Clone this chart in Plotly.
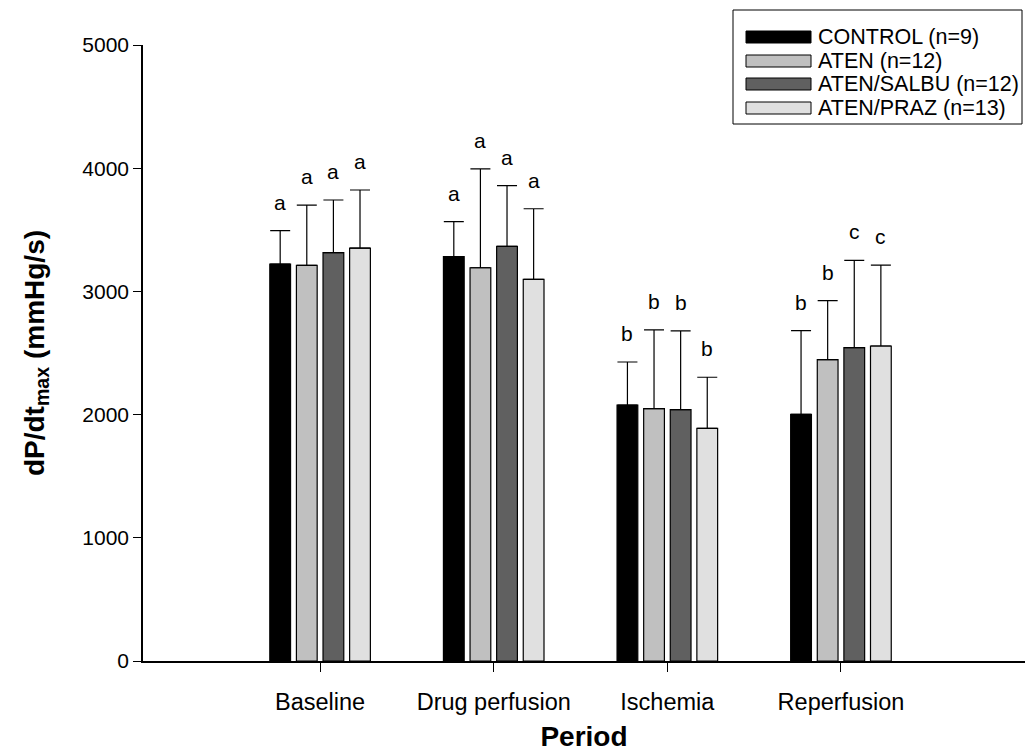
import plotly.graph_objects as go

# Periods and treatment groups
periods = ["Baseline", "Drug perfusion", "Ischemia", "Reperfusion"]
groups = ["CONTROL (n=9)", "ATEN (n=12)", "ATEN/SALBU (n=12)", "ATEN/PRAZ (n=13)"]
colors = ["#000000", "#c0c0c0", "#606060", "#e0e0e0"]

# Mean dP/dt max (mmHg/s) per group, one value per period
control_mean = [3222, 3282, 2078, 2002]
aten_mean = [3212, 3192, 2048, 2446]
salbu_mean = [3314, 3366, 2040, 2543]
praz_mean = [3352, 3098, 1889, 2557]

# Upper error (SD) per group
control_sd = [271, 284, 349, 679]
aten_sd = [489, 802, 639, 479]
salbu_sd = [428, 492, 639, 709]
praz_sd = [471, 573, 414, 657]

# Significance letters per group
control_sig = ["a", "a", "b", "b"]
aten_sig = ["a", "a", "b", "b"]
salbu_sig = ["a", "a", "b", "c"]
praz_sig = ["a", "a", "b", "c"]

means = [control_mean, aten_mean, salbu_mean, praz_mean]
sds = [control_sd, aten_sd, salbu_sd, praz_sd]
sigs = [control_sig, aten_sig, salbu_sig, praz_sig]

W, H = 1025, 752
L, R, T, B = 143, 0, 45, 91
FONT = "Liberation Sans, Arial, sans-serif"

fig = go.Figure()
xs = list(range(len(periods)))
for name, col, m, s in zip(groups, colors, means, sds):
    fig.add_trace(go.Bar(
        x=xs, y=m, name=name,
        marker=dict(color=col, line=dict(color="#000000", width=1.2)),
        error_y=dict(type="data", symmetric=False, array=s,
                     arrayminus=[0] * len(s), color="#000000",
                     thickness=1.2, width=10),
        showlegend=False,
    ))

# Letters above each error bar
n = len(groups)
gap = 0.387
slot = (1 - gap) / n
for gi in range(n):
    for pi in range(len(periods)):
        xc = pi - (1 - gap) / 2 + slot * (gi + 0.5)
        fig.add_annotation(
            x=xc, y=means[gi][pi] + sds[gi][pi], text=sigs[gi][pi],
            showarrow=False, yanchor="bottom", yshift=15,
            font=dict(family=FONT, size=21, color="#000000"),
        )

# Legend box drawn in paper coordinates
pw, ph = W - L - R, H - T - B


def px(x):
    return (x - L) / pw


def py(y):
    return (H - B - y) / ph


fig.add_shape(type="rect", xref="paper", yref="paper",
              x0=px(733), x1=px(1022), y0=py(124), y1=py(10),
              line=dict(color="#000000", width=1), fillcolor="#ffffff")
row_y = [37, 61, 84, 108]
for name, col, ry in zip(groups, colors, row_y):
    fig.add_shape(type="rect", xref="paper", yref="paper",
                  x0=px(746), x1=px(811), y0=py(ry + 6), y1=py(ry - 6),
                  line=dict(color="#000000", width=1), fillcolor=col)
    fig.add_annotation(x=px(816), y=py(ry), xref="paper", yref="paper",
                       text=name, showarrow=False, xanchor="left",
                       yanchor="middle",
                       font=dict(family=FONT, size=21.5, color="#000000"))

fig.update_layout(
    width=W, height=H,
    margin=dict(l=L, r=R, t=T, b=B, pad=0),
    paper_bgcolor="#ffffff", plot_bgcolor="#ffffff",
    barmode="group", bargap=gap, bargroupgap=0.22,
    font=dict(family=FONT, size=17, color="#000000"),
    xaxis=dict(
        range=[-1.02, 4.06], tickvals=xs, ticktext=periods,
        showline=True, linecolor="#000000", linewidth=2,
        ticks="outside", ticklen=9, tickcolor="#000000", tickwidth=1,
        showgrid=False, zeroline=False, ticklabelstandoff=10,
        tickfont=dict(family=FONT, size=23.5),
        title=dict(text="<b>Period</b>", standoff=14,
                   font=dict(family=FONT, size=28)),
    ),
    yaxis=dict(
        range=[0, 5000], tickvals=[0, 1000, 2000, 3000, 4000, 5000],
        showline=True, linecolor="#000000", linewidth=1.5,
        ticks="outside", ticklen=8, tickcolor="#000000", tickwidth=1,
        showgrid=False, zeroline=False,
        tickfont=dict(family=FONT, size=21),
        title=dict(text="<b>dP/dt<sub>max</sub> (mmHg/s)</b>", standoff=30,
                   font=dict(family=FONT, size=28)),
    ),
)

fig.write_html("out.html")
